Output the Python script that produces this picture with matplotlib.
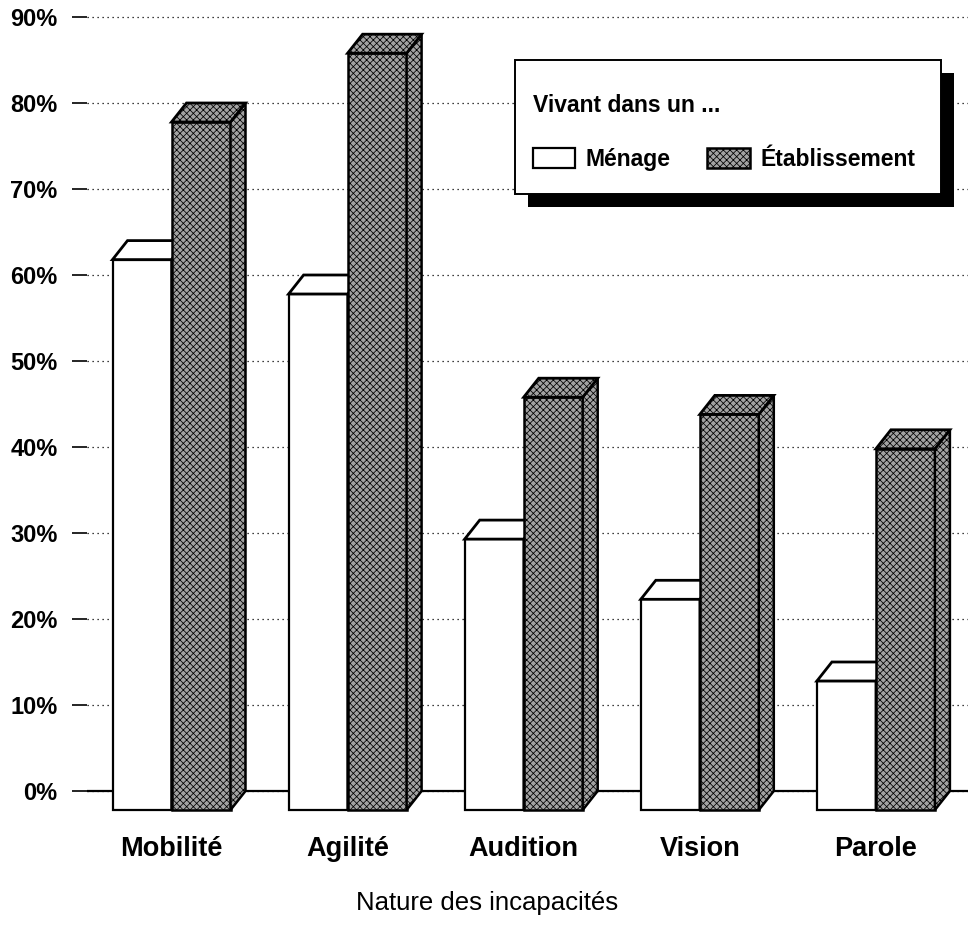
import matplotlib
matplotlib.use('Agg')
import matplotlib.pyplot as plt
from matplotlib.patches import Polygon, Rectangle
import numpy as np

# ---- data ----
categories = ['Mobilité', 'Agilité', 'Audition', 'Vision', 'Parole']
menage = [64, 60, 31.5, 24.5, 15]
etablissement = [80, 88, 48, 46, 42]
series_names = ['Ménage', 'Établissement']
yticks = [0, 10, 20, 30, 40, 50, 60, 70, 80, 90]
ytick_labels = [f'{v}%' for v in yticks]
legend_title = 'Vivant dans un ...'
xlabel = 'Nature des incapacités'

plt.rcParams['font.family'] = ['Liberation Sans', 'DejaVu Sans']
plt.rcParams['hatch.linewidth'] = 0.55

W, H = 968, 933
fig = plt.figure(figsize=(W / 100, H / 100), dpi=100)

# layout (pixels)
left_px, right_px, top_px, bottom_px = 87, 968, 10, 815
zero_px, ppu_y = 791, 8.6          # pixel of 0 %, pixels per 1 %
c0, pitch = 171.5, 176.1           # first group centre, group pitch (px)
ax = fig.add_axes([left_px / W, 1 - bottom_px / H,
                   (right_px - left_px) / W, (bottom_px - top_px) / H])
ax.set_ylim((zero_px - bottom_px) / ppu_y, (zero_px - top_px) / ppu_y)
ax.set_xlim((left_px - c0) / pitch, (right_px - c0) / pitch)

w = 59 / pitch                     # bar width
dxd = 15 / pitch                   # depth x
dyd = 19 / ppu_y                   # depth y
x = np.arange(len(categories))

gray = '#a2a2a2'
hatch = 'xxxxx'
men = ax.bar(x - w / 2, menage, width=w, bottom=-dyd, facecolor='white',
             edgecolor='black', linewidth=1.6, zorder=2)
eta = ax.bar(x + w / 2, etablissement, width=w, bottom=-dyd, facecolor=gray,
             edgecolor='black', linewidth=1.8, hatch=hatch, zorder=3)


def faces(container, fc, htch, z):
    for r in container.patches:
        x0, b = r.get_x(), r.get_y()
        x1, t = x0 + r.get_width(), b + r.get_height()
        side = Polygon([(x1, b), (x1 + dxd, b + dyd), (x1 + dxd, t + dyd), (x1, t)],
                       closed=True, facecolor=fc, edgecolor='black', lw=1.8,
                       hatch=htch, zorder=z, joinstyle='miter')
        top = Polygon([(x0, t), (x1, t), (x1 + dxd, t + dyd), (x0 + dxd, t + dyd)],
                      closed=True, facecolor=fc, edgecolor='black', lw=2.0,
                      hatch=htch, zorder=z, joinstyle='miter')
        ax.add_patch(side)
        ax.add_patch(top)


faces(men, 'white', None, 2)
faces(eta, gray, hatch, 3)

ax.axhline(0, color='black', lw=1.6, zorder=1.5)
ax.set_yticks(yticks, ytick_labels)
ax.grid(axis='y', color='black', linestyle=(0, (1, 3)), lw=0.9)
ax.set_axisbelow(True)
ax.tick_params(axis='y', length=10.8, width=1.2, pad=10.5, labelsize=17)
for lab in ax.get_yticklabels():
    lab.set_fontweight('bold')
ax.set_xticks(x, categories)
ax.tick_params(axis='x', length=0, pad=15, labelsize=19.5)
for lab in ax.get_xticklabels():
    lab.set_fontweight('bold')
for s in ax.spines.values():
    s.set_visible(False)

fig.text(487.5 / W, 1 - 903 / H, xlabel, ha='center', va='center', fontsize=18.5)

# legend box with shadow
lx0, ly0, lx1, ly1, sh = 515, 60, 941, 194, 13
ax.add_patch(Rectangle(((lx0 + sh) / W, 1 - (ly1 + sh) / H), (lx1 - lx0) / W,
                       (ly1 - ly0) / H, transform=fig.transFigure, facecolor='black',
                       edgecolor='none', zorder=4.4, clip_on=False))
ax.add_patch(Rectangle((lx0 / W, 1 - ly1 / H), (lx1 - lx0) / W, (ly1 - ly0) / H,
                       transform=fig.transFigure, facecolor='white',
                       edgecolor='black', lw=1.4, zorder=4.5, clip_on=False))
leg = ax.legend([men, eta], series_names, title=legend_title, ncol=2,
                loc='upper left', bbox_to_anchor=(533 / W, 1 - 94 / H),
                bbox_transform=fig.transFigure, frameon=False,
                prop={'weight': 'bold', 'size': 16.5},
                title_fontproperties={'weight': 'bold', 'size': 16.5},
                alignment='left', borderpad=0, borderaxespad=0,
                handlelength=1.85, handleheight=1.0, handletextpad=0.45,
                columnspacing=1.6, labelspacing=1.35)
leg.set_zorder(5)

fig.savefig('out.png', dpi=100)
